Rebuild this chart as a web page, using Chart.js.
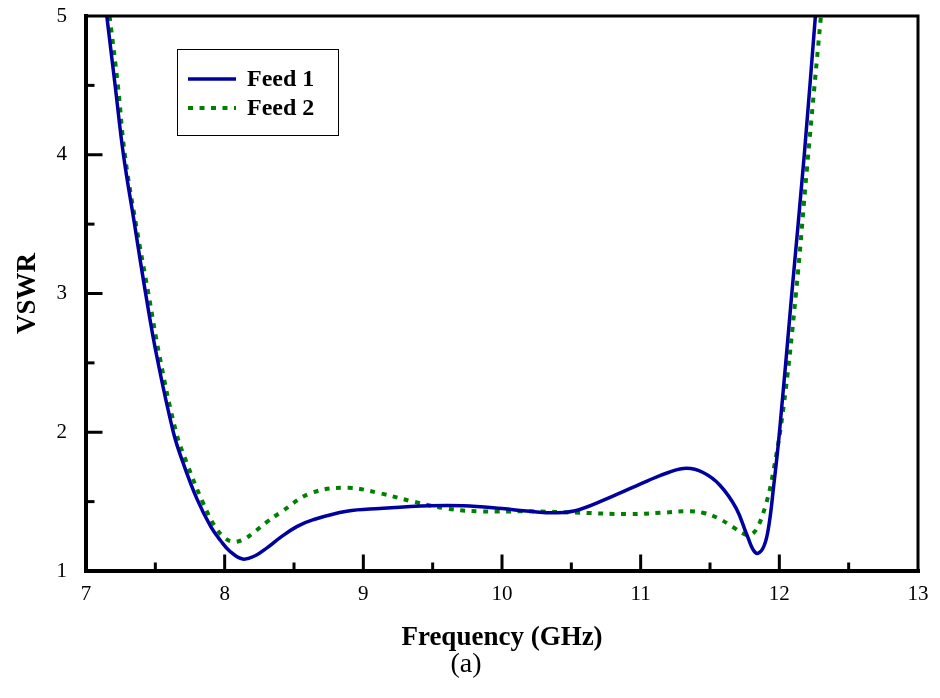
<!DOCTYPE html>
<html lang="en">
<head>
    <meta charset="UTF-8">
    <title>VSWR - Feed 1 / Feed 2</title>
    <script src="https://cdn.jsdelivr.net/npm/chart.js"></script>
    <style>
        html, body { margin: 0; padding: 0; background: #fff; }
        #wrap { width: 940px; height: 698px; }
    </style>
</head>
<body>
<div id="wrap"><canvas id="vswrChart" width="940" height="698"></canvas></div>

<script>
    // Values
    const feed1Freq = [7.15, 7.21, 7.27, 7.35, 7.43, 7.51, 7.63, 7.70, 7.80, 7.90, 7.97, 8.04, 8.13, 8.22, 8.31, 8.40, 8.52, 8.64, 8.88, 9.12, 9.48, 9.72, 10.00, 10.20, 10.40, 10.55, 10.80, 11.05, 11.20, 11.33, 11.45, 11.57, 11.69, 11.77, 11.83, 11.88, 11.92, 11.96, 12.00, 12.09, 12.18, 12.26];
    const feed1Vswr = [5.00, 4.50, 4.00, 3.50, 3.00, 2.55, 2.00, 1.78, 1.52, 1.32, 1.22, 1.14, 1.086, 1.11, 1.17, 1.24, 1.32, 1.37, 1.43, 1.45, 1.47, 1.47, 1.45, 1.43, 1.42, 1.44, 1.54, 1.65, 1.71, 1.74, 1.71, 1.62, 1.45, 1.25, 1.13, 1.16, 1.30, 1.62, 1.99, 3.00, 4.00, 5.00];

    const feed2Freq = [7.17, 7.23, 7.28, 7.36, 7.45, 7.53, 7.65, 7.73, 7.84, 7.93, 8.00, 8.06, 8.13, 8.20, 8.30, 8.40, 8.62, 8.88, 9.12, 9.36, 9.60, 9.84, 10.20, 10.56, 10.92, 11.15, 11.33, 11.45, 11.56, 11.66, 11.74, 11.79, 11.84, 11.90, 11.95, 12.03, 12.12, 12.20, 12.30];
    const feed2Vswr = [5.00, 4.50, 4.00, 3.50, 3.00, 2.55, 2.00, 1.77, 1.50, 1.32, 1.24, 1.21, 1.225, 1.27, 1.35, 1.42, 1.56, 1.60, 1.56, 1.50, 1.45, 1.43, 1.43, 1.42, 1.41, 1.42, 1.43, 1.42, 1.38, 1.32, 1.27, 1.26, 1.31, 1.47, 1.68, 2.18, 3.00, 3.91, 5.00];

    const xTicks = [7, 8, 9, 10, 11, 12, 13];
    const yTicks = [1, 2, 3, 4, 5];
    const seriesNames = ['Feed 1', 'Feed 2'];

    const serif = "'Liberation Serif', 'Times New Roman', serif";
    const blue = 'rgb(0, 0, 160)';
    const green = 'rgb(0, 128, 0)';

    const toPoints = (xs, ys) => xs.map((x, i) => ({ x: x, y: ys[i] }));

    // frame, inward ticks, legend and caption
    const framePlugin = {
        id: 'frame',
        afterDraw(chart) {
            const ctx = chart.ctx;
            const a = chart.chartArea;
            const xs = chart.scales.x;
            const ys = chart.scales.y;
            ctx.save();
            ctx.strokeStyle = '#000';
            ctx.lineCap = 'square';

            // ticks (major + minor), pointing inside
            ctx.lineWidth = 3;
            for (let v = 7.5; v < 13; v += 0.5) {
                const px = xs.getPixelForValue(v);
                const len = Number.isInteger(v) ? 15 : 7;
                ctx.beginPath();
                ctx.moveTo(px, a.bottom);
                ctx.lineTo(px, a.bottom - len);
                ctx.stroke();
            }
            for (let v = 1.5; v < 5; v += 0.5) {
                const py = ys.getPixelForValue(v);
                const len = Number.isInteger(v) ? 15 : 7;
                ctx.beginPath();
                ctx.moveTo(a.left, py);
                ctx.lineTo(a.left + len, py);
                ctx.stroke();
            }

            // box
            ctx.lineWidth = 3;
            ctx.beginPath();
            ctx.moveTo(a.left, a.top);
            ctx.lineTo(a.right, a.top);
            ctx.lineTo(a.right, a.bottom);
            ctx.stroke();
            ctx.lineWidth = 4;
            ctx.beginPath();
            ctx.moveTo(a.left, a.top);
            ctx.lineTo(a.left, a.bottom);
            ctx.lineTo(a.right, a.bottom);
            ctx.stroke();

            // legend
            ctx.lineWidth = 1;
            ctx.lineCap = 'butt';
            ctx.strokeRect(177.5, 49.5, 161, 86);
            const rows = [79, 108];
            chart.data.datasets.forEach((ds, i) => {
                ctx.strokeStyle = ds.borderColor;
                ctx.lineWidth = ds.borderWidth;
                ctx.setLineDash(ds.borderDash || []);
                ctx.beginPath();
                ctx.moveTo(188, rows[i]);
                ctx.lineTo(236, rows[i]);
                ctx.stroke();
                ctx.setLineDash([]);
                ctx.fillStyle = '#000';
                ctx.font = 'bold 24px ' + serif;
                ctx.textBaseline = 'middle';
                ctx.textAlign = 'left';
                ctx.fillText(ds.label, 247, rows[i] + 1);
            });

            // caption
            ctx.fillStyle = '#000';
            ctx.font = '28px ' + serif;
            ctx.textAlign = 'center';
            ctx.textBaseline = 'middle';
            ctx.fillText('(a)', 466, 665);
            ctx.restore();
        }
    };

    const ctx = document.getElementById('vswrChart').getContext('2d');
    new Chart(ctx, {
        type: 'line',
        data: {
            datasets: [
                {
                    label: seriesNames[0],
                    data: toPoints(feed1Freq, feed1Vswr),
                    borderColor: blue,
                    borderWidth: 3.5,
                    pointRadius: 0,
                    tension: 0.4
                },
                {
                    label: seriesNames[1],
                    data: toPoints(feed2Freq, feed2Vswr),
                    borderColor: green,
                    borderWidth: 4,
                    borderDash: [5, 6.5],
                    borderCapStyle: 'butt',
                    pointRadius: 0,
                    tension: 0.4
                }
            ]
        },
        options: {
            responsive: false,
            animation: false,
            layout: { padding: { top: 16, right: 22, left: 0, bottom: 0 } },
            plugins: {
                legend: { display: false },
                tooltip: { enabled: false }
            },
            scales: {
                x: {
                    type: 'linear',
                    min: 7,
                    max: 13,
                    afterBuildTicks: (s) => { s.ticks = xTicks.map(v => ({ value: v })); },
                    afterFit: (s) => { s.height = 127; s.paddingLeft = 0; s.paddingRight = 0; },
                    grid: { display: false, drawTicks: false },
                    border: { display: false },
                    ticks: {
                        color: '#000',
                        padding: 11,
                        maxRotation: 0,
                        font: { family: serif, size: 21 }
                    },
                    title: {
                        display: true,
                        text: 'Frequency (GHz)',
                        color: '#000',
                        font: { family: serif, size: 27, weight: 'bold' },
                        padding: { top: 0, bottom: 44 }
                    }
                },
                y: {
                    min: 1,
                    max: 5,
                    afterBuildTicks: (s) => { s.ticks = yTicks.map(v => ({ value: v })); },
                    afterFit: (s) => { s.width = 86; s.paddingTop = 0; s.paddingBottom = 0; },
                    grid: { display: false, drawTicks: false },
                    border: { display: false },
                    ticks: {
                        color: '#000',
                        padding: 19,
                        font: { family: serif, size: 21 }
                    },
                    title: {
                        display: true,
                        text: 'VSWR',
                        color: '#000',
                        font: { family: serif, size: 27, weight: 'bold' },
                        padding: { top: 12, bottom: 0 }
                    }
                }
            }
        },
        plugins: [framePlugin]
    });
</script>
</body>
</html>
